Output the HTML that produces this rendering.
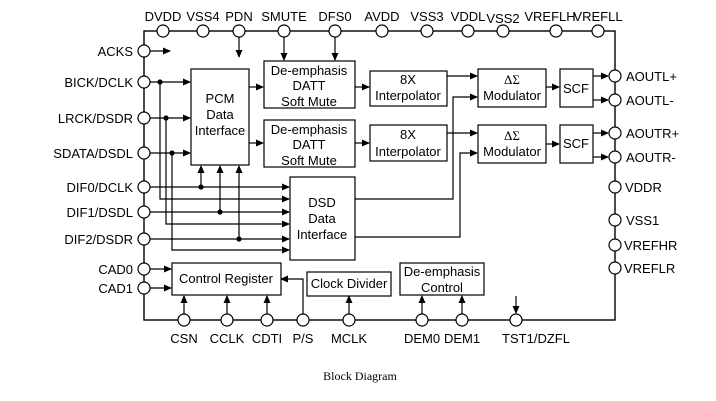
<!DOCTYPE html>
<html><head><meta charset="utf-8"><style>
body{margin:0;background:#fff}
svg{display:block}
text{font-family:"Liberation Sans",sans-serif;font-size:13px;fill:#000}
</style></head><body>
<svg width="716" height="401" viewBox="0 0 716 401" xmlns="http://www.w3.org/2000/svg">
<defs><marker id="a" markerWidth="8" markerHeight="8" refX="7" refY="4" orient="auto" markerUnits="userSpaceOnUse"><path d="M0,0.5 L8,4 L0,7.5 z" fill="#000"/></marker></defs>
<g stroke="#000" stroke-width="1.4" fill="none">
<rect x="144" y="31" width="471" height="289"/>
</g>
<g stroke="#000" stroke-width="1.2" fill="none" marker-end="url(#a)">
<!-- top arrows -->
<path d="M239 37 V57"/><path d="M284 37 V60"/><path d="M335 37 V60"/>
<path d="M150 51 H170"/>
<!-- left inputs to PCM -->
<path d="M150 82 H190"/><path d="M150 118 H190"/><path d="M150 153 H190"/>
<!-- DSD inputs -->
<path d="M150 187 H289"/><path d="M160 82 V199 H289"/>
<path d="M150 212 H289"/><path d="M166 118 V224 H289"/>
<path d="M150 239 H289"/><path d="M172 153 V250 H289"/>
<path d="M201 187 V166"/><path d="M220 212 V166"/><path d="M239 239 V166"/>
<!-- PCM -> Deemph -->
<path d="M249 87 H263"/><path d="M249 143 H263"/>
<path d="M355 87 H369"/><path d="M355 143 H369"/>
<path d="M447 76 H477"/><path d="M447 133 H477"/>
<path d="M355 199 H453 V97 H477"/><path d="M355 237 H460 V153 H477"/>
<path d="M546 87 H559"/><path d="M546 144 H559"/>
<path d="M593 76 H608"/><path d="M593 100 H608"/><path d="M593 133 H608"/><path d="M593 157 H608"/>
<!-- control -->
<path d="M150 269 H171"/><path d="M150 288 H171"/>
<path d="M303 314 V279 H281"/>
<path d="M184 314 V296"/><path d="M227 314 V296"/><path d="M267 314 V296"/>
<path d="M349 314 V296"/><path d="M422 314 V296"/><path d="M462 314 V296"/>
<path d="M516 296 V313"/>
</g>
<g fill="#000">
<circle cx="160" cy="82" r="2.6"/><circle cx="166" cy="118" r="2.6"/><circle cx="172" cy="153" r="2.6"/>
<circle cx="201" cy="187" r="2.6"/><circle cx="220" cy="212" r="2.6"/><circle cx="239" cy="239" r="2.6"/>
</g>
<g stroke="#000" stroke-width="1.2" fill="#fff">
<rect x="191" y="69" width="58" height="96"/>
<rect x="264" y="61" width="91" height="47"/><rect x="264" y="120" width="91" height="47"/>
<rect x="370" y="71" width="77" height="35"/><rect x="370" y="125" width="77" height="36"/>
<rect x="478" y="69" width="68" height="38"/><rect x="478" y="125" width="68" height="38"/>
<rect x="560" y="69" width="33" height="38"/><rect x="560" y="125" width="33" height="38"/>
<rect x="290" y="177" width="65" height="83"/>
<rect x="172" y="263" width="109" height="32"/>
<rect x="307" y="272" width="84" height="24"/>
<rect x="400" y="263" width="84" height="32"/>
<!-- pins -->
<circle cx="163" cy="31" r="6"/><circle cx="203" cy="31" r="6"/><circle cx="239" cy="31" r="6"/><circle cx="284" cy="31" r="6"/><circle cx="335" cy="31" r="6"/><circle cx="382" cy="31" r="6"/><circle cx="427" cy="31" r="6"/><circle cx="468" cy="31" r="6"/><circle cx="503" cy="31" r="6"/><circle cx="556" cy="31" r="6"/><circle cx="598" cy="31" r="6"/>
<circle cx="144" cy="51" r="6"/><circle cx="144" cy="82" r="6"/><circle cx="144" cy="118" r="6"/><circle cx="144" cy="153" r="6"/><circle cx="144" cy="187" r="6"/><circle cx="144" cy="212" r="6"/><circle cx="144" cy="239" r="6"/><circle cx="144" cy="269" r="6"/><circle cx="144" cy="288" r="6"/>
<circle cx="615" cy="76" r="6"/><circle cx="615" cy="100" r="6"/><circle cx="615" cy="133" r="6"/><circle cx="615" cy="157" r="6"/><circle cx="615" cy="187" r="6"/><circle cx="615" cy="220" r="6"/><circle cx="615" cy="245" r="6"/><circle cx="615" cy="268" r="6"/>
<circle cx="184" cy="320" r="6"/><circle cx="227" cy="320" r="6"/><circle cx="267" cy="320" r="6"/><circle cx="303" cy="320" r="6"/><circle cx="349" cy="320" r="6"/><circle cx="422" cy="320" r="6"/><circle cx="462" cy="320" r="6"/><circle cx="516" cy="320" r="6"/>
</g>
<g text-anchor="middle">
<text x="163" y="21">DVDD</text><text x="203" y="21">VSS4</text><text x="239" y="21">PDN</text><text x="284" y="21">SMUTE</text><text x="335" y="21">DFS0</text><text x="382" y="21">AVDD</text><text x="427" y="21">VSS3</text><text x="468" y="21">VDDL</text><text x="503" y="23">VSS2</text><text x="550" y="21">VREFLH</text><text x="598" y="21">VREFLL</text>
<text x="184" y="343">CSN</text><text x="227" y="343">CCLK</text><text x="267" y="343">CDTI</text><text x="303" y="343">P/S</text><text x="349" y="343">MCLK</text><text x="422" y="343">DEM0</text><text x="462" y="343">DEM1</text><text x="536" y="343">TST1/DZFL</text>
<text x="220" y="103">PCM</text><text x="220" y="119">Data</text><text x="220" y="135">Interface</text>
<text x="309" y="75">De-emphasis</text><text x="309" y="90">DATT</text><text x="309" y="106">Soft Mute</text>
<text x="309" y="134">De-emphasis</text><text x="309" y="149">DATT</text><text x="309" y="165">Soft Mute</text>
<text x="408" y="84">8X</text><text x="408" y="100">Interpolator</text>
<text x="408" y="139">8X</text><text x="408" y="156">Interpolator</text>
<text x="512" y="84" style="font-family:'Liberation Serif',serif">ΔΣ</text><text x="512" y="100">Modulator</text>
<text x="512" y="140" style="font-family:'Liberation Serif',serif">ΔΣ</text><text x="512" y="156">Modulator</text>
<text x="576" y="93">SCF</text><text x="576" y="148">SCF</text>
<text x="322" y="207">DSD</text><text x="322" y="223">Data</text><text x="322" y="239">Interface</text>
<text x="226" y="283">Control Register</text>
<text x="349" y="288">Clock Divider</text>
<text x="442" y="276">De-emphasis</text><text x="442" y="292">Control</text>
<text x="360" y="380" style="font-family:'Liberation Serif',serif;font-size:12px">Block Diagram</text>
</g>
<g text-anchor="end">
<text x="133" y="56">ACKS</text><text x="133" y="87">BICK/DCLK</text><text x="133" y="123">LRCK/DSDR</text><text x="133" y="158">SDATA/DSDL</text><text x="133" y="192">DIF0/DCLK</text><text x="133" y="217">DIF1/DSDL</text><text x="133" y="244">DIF2/DSDR</text><text x="133" y="274">CAD0</text><text x="133" y="293">CAD1</text>
</g>
<g>
<text x="626" y="81">AOUTL+</text><text x="626" y="105">AOUTL-</text><text x="626" y="138">AOUTR+</text><text x="626" y="162">AOUTR-</text><text x="625" y="192">VDDR</text><text x="626" y="225">VSS1</text><text x="624" y="250">VREFHR</text><text x="624" y="273">VREFLR</text>
</g>
</svg>
</body></html>
